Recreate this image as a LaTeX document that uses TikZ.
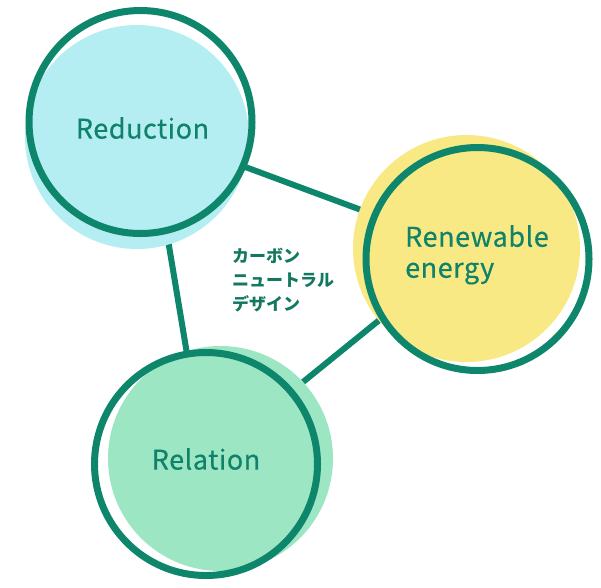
\documentclass[tikz,border=0pt]{standalone}
\usepackage{fontspec}
\newfontfamily\jp{Noto Sans CJK JP}
\newfontfamily\jpl{Noto Sans CJK JP}[LetterSpace=2,FakeBold=0.4]
\definecolor{ringc}{RGB}{13,134,108}
\definecolor{txtc}{RGB}{16,130,106}
\definecolor{jptxt}{RGB}{18,120,96}
\definecolor{bluef}{RGB}{180,238,243}
\definecolor{yellowf}{RGB}{248,233,132}
\definecolor{greenf}{RGB}{156,230,196}
\tikzset{
  ring/.style={circle, draw=ringc, line width=7pt, inner sep=0pt, minimum size=223pt},
  fillc/.style={circle, inner sep=0pt, draw=none},
  conn/.style={draw=ringc, line width=6pt},
  lbl/.style={font=\jpl\fontsize{27}{31}\selectfont, text=txtc},
}
\begin{document}
\begin{tikzpicture}[x=1pt,y=-1pt]
\useasboundingbox (0,0) rectangle (601,587);
% connector end points
\coordinate (a1) at (244,166.5);
\coordinate (b1) at (372,214);
\coordinate (a2) at (168.5,243);
\coordinate (c2) at (188,360);
\coordinate (b3) at (388,313);
\coordinate (c3) at (303,382);
\draw[conn] (a1) -- (b1);
\draw[conn] (a2) -- (c2);
\draw[conn] (b3) -- (c3);
% fills
\node[fillc, fill=bluef, minimum size=224pt] (redf) at (137,137) {};
\node[fillc, fill=yellowf, minimum size=227pt] (renf) at (466.5,248.5) {};
\node[fillc, fill=greenf, minimum size=225pt] (relf) at (220.5,458.5) {};
% rings
\node[ring] (red) at (140.5,122) {};
\node[ring] (ren) at (477.5,259) {};
\node[ring] (rel) at (206,464) {};
% labels
\node[lbl] (redt) at (142.5,128) {Reduction};
\node[lbl, align=left, anchor=north west, inner sep=0pt] (rent) at (405,225) {Renewable\\energy};
\node[lbl] (relt) at (206,459) {Relation};
\node[font=\jp\bfseries\fontsize{17}{24}\selectfont, text=jptxt, align=left, anchor=north west, inner sep=0pt] (cnd) at (232,248) {カーボン\\ニュートラル\\デザイン};
\end{tikzpicture}
\end{document}
